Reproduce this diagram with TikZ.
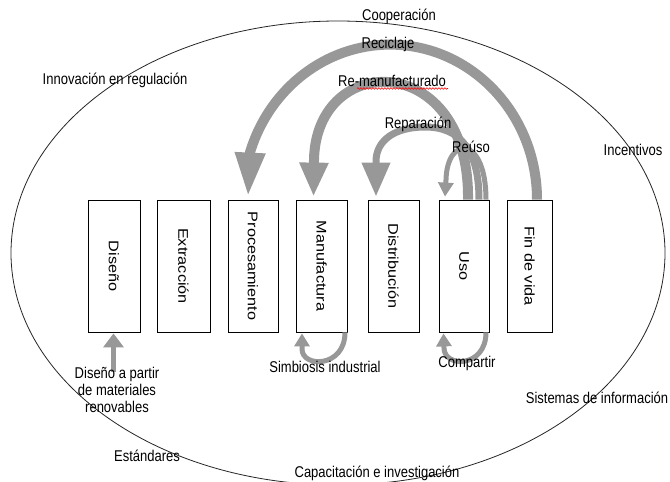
\documentclass[tikz,border=0pt]{standalone}
\usepackage{fontspec}
\setmainfont{Liberation Sans}
\usepackage{graphicx}
\usetikzlibrary{arrows.meta,decorations.pathmorphing}
\definecolor{arrgray}{RGB}{152,152,152}
\newcommand{\vst}[1]{\scalebox{1}[1.2]{#1}}
\newcommand{\hst}[1]{\rotatebox{-90}{\scalebox{1.16}[1]{#1}}}
\begin{document}
\begin{tikzpicture}[x=1pt,y=-1pt,
  box/.style={draw=black, line width=0.8pt, minimum height=132pt, inner sep=0pt,
    font=\fontsize{14}{16}\selectfont},
  lbl/.style={inner sep=0pt, font=\fontsize{13}{14}\selectfont, align=center},
  flow/.style={draw=arrgray, line cap=butt}
]
\useasboundingbox (0,0) rectangle (670,482);
\clip (0,0) rectangle (670,482);
\fill[white] (0,0) rectangle (670,482);

% outer ellipse
\draw[line width=0.8pt, black!85] (338,253) ellipse [x radius=327pt, y radius=232pt];

% boxes
\node[box, minimum width=52pt] (dis)  at (114,266)   {\hst{Diseño}};
\node[box, minimum width=53pt] (ext)  at (183.5,266) {\hst{Extracción}};
\node[box, minimum width=50pt] (proc) at (253,266)   {\hst{Procesamiento}};
\node[box, minimum width=51pt] (man)  at (321.5,266) {\hst{Manufactura}};
\node[box, minimum width=51pt] (dist) at (393.5,266) {\hst{Distribución}};
\node[box, minimum width=50pt] (uso)  at (464,266)   {\hst{Uso}};
\node[box, minimum width=45pt] (fin)  at (529.5,266) {\hst{Fin de vida}};

% upper loops
\draw[flow, line width=10pt, -{Triangle[width=28pt,length=44pt]}]
  ([xshift=7.5pt]fin.north) arc[start angle=0, end angle=162, x radius=147pt, y radius=155pt]
  -- ([xshift=-5pt,yshift=3pt]proc.north);
\draw[flow, line width=10pt, -{Triangle[width=27pt,length=34pt]}]
  ([xshift=4pt]uso.north) .. controls (470,50) and (316,50) .. (314,160)
  -- ([xshift=-8pt,yshift=3pt]man.north);
\draw[flow, line width=7pt, -{Triangle[width=27pt,length=34pt]}]
  ([xshift=15pt]uso.north) .. controls (479,150) and (460,127) .. (425,127)
  .. controls (395,127) and (377,140) .. (376,160)
  -- ([xshift=-17.5pt,yshift=3pt]dist.north);
\draw[flow, line width=5pt, -{Triangle[width=15pt,length=14pt]}]
  ([xshift=22pt]uso.north) .. controls (486,135) and (447,135) .. (446,180)
  -- ([xshift=-19pt,yshift=3pt]uso.north);

% lower loops
\coordinate (dtail) at (113.5,372);
\draw[flow, line width=5pt, -{Triangle[width=20pt,length=14pt]}]
  (dtail) -- ([xshift=-0.5pt,yshift=-1pt]dis.south);
\draw[flow, line width=5pt, -{Triangle[width=15pt,length=13pt]}]
  ([xshift=23.5pt]man.south) .. controls (345,368) and (302,368) .. (302,349)
  -- ([xshift=-19.5pt,yshift=-1pt]man.south);
\draw[flow, line width=5pt, -{Triangle[width=15pt,length=13pt]}]
  ([xshift=22pt]uso.south) .. controls (486,368) and (444,368) .. (444,348)
  -- ([xshift=-20.5pt,yshift=-1pt]uso.south);

% labels
\node[lbl] (coop) at (399,16)  {\vst{Cooperación}};
\node[lbl] (reci) at (388,44)  {\vst{Reciclaje}};
\node[lbl] (remf) at (392,81)  {\vst{Re-manufacturado}};
\draw[red, line width=0.6pt, decorate, decoration={snake, amplitude=0.8pt, segment length=3pt}]
  (357,88.5) -- (448,88.5);
\node[lbl] (repa) at (418,124) {\vst{Reparación}};
\node[lbl] (reus) at (471,147) {\vst{Reúso}};
\node[lbl] (inno) at (115,80)  {\vst{Innovación en regulación}};
\node[lbl] (ince) at (633,150) {\vst{Incentivos}};
\node[lbl] (sist) at (597,398) {\vst{Sistemas de información}};
\node[lbl] (esta) at (147,456) {\vst{Estándares}};
\node[lbl] (capa) at (377,473) {\vst{Capacitación e investigación}};
\node[lbl] (simb) at (325,367) {\vst{Simbiosis industrial}};
\node[lbl] (comp) at (467,363) {\vst{Compartir}};
\node[lbl] (dmr)  at (117,392) {\vst{\begin{tabular}{@{}c@{}}Diseño a partir\\de materiales\\renovables\end{tabular}}};
\end{tikzpicture}
\end{document}
